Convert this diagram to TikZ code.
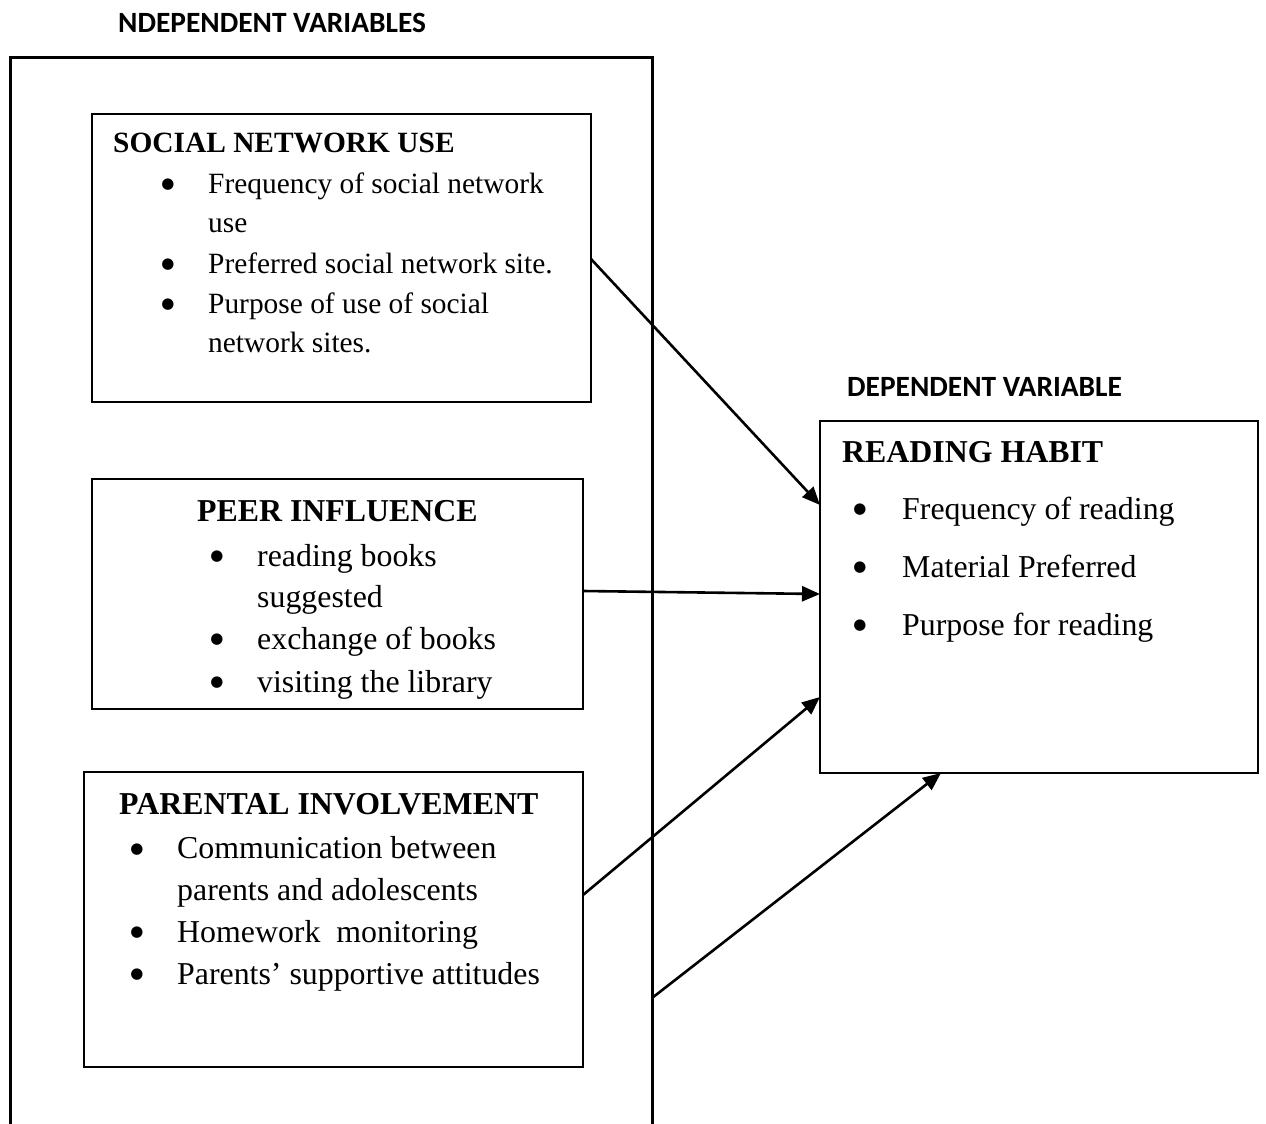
\documentclass[tikz,border=0pt]{standalone}
\usepackage{fontspec}
\setmainfont{Liberation Serif}
\newfontfamily\calibri{Carlito}
\newfontfamily\dejavu{DejaVu Sans}
\usetikzlibrary{arrows.meta,calc}
\tikzset{
  box/.style={draw=black, line width=2pt, inner sep=0pt, outer sep=0pt, anchor=north west},
  outerbox/.style={draw=black, line width=3pt},
  conn/.style={draw=black, line width=2.6pt, -{Triangle[length=18pt,width=15pt]}},
  titlelab/.style={font=\calibri\bfseries\fontsize{29.4}{34}\selectfont, anchor=base west, inner sep=0pt},
  headA/.style={font=\bfseries\fontsize{29.4}{34}\selectfont, anchor=base west, inner sep=0pt},
  headB/.style={font=\bfseries\fontsize{31.85}{37}\selectfont, anchor=base west, inner sep=0pt},
  itemA/.style={font=\fontsize{29.4}{34}\selectfont, anchor=base west, inner sep=0pt},
  itemB/.style={font=\fontsize{31.85}{37}\selectfont, anchor=base west, inner sep=0pt},
  bul/.style={font=\dejavu\fontsize{15}{16}\selectfont, anchor=center, inner sep=0pt}
}
\begin{document}
\begin{tikzpicture}[x=1pt,y=-1pt]
\useasboundingbox[fill=white] (0,0) rectangle (1266,1124);
% outer frame (open at bottom)
\draw[outerbox] (10,1124) -- (10,58) -- (652,58) -- (652,1124);
\coordinate (outerR) at (652,998);
% titles
\node[titlelab] (tind) at (118,33) {NDEPENDENT VARIABLES};
\node[titlelab] (tdep) at (847,396) {DEPENDENT VARIABLE};
% boxes
\node[box, minimum width=499pt, minimum height=288pt] (sn) at (92,114) {};
\node[box, minimum width=491pt, minimum height=230pt] (pi) at (92,479) {};
\node[box, minimum width=499pt, minimum height=295pt] (pa) at (84,772) {};
\node[box, minimum width=438pt, minimum height=352pt] (rh) at (820,421) {};
% social network use
\node[headA] (snh) at (113,152) {SOCIAL NETWORK USE};
\node[bul] (snb1) at (168,185) {●};
\node[itemA] (sn1) at (208,193) {Frequency of social network};
\node[itemA] (sn1b) at (208,232) {use};
\node[bul] (snb2) at (168,265) {●};
\node[itemA] (sn2) at (208,273) {Preferred social network site.};
\node[bul] (snb3) at (168,305) {●};
\node[itemA] (sn3) at (208,313) {Purpose of use of social};
\node[itemA] (sn3b) at (208,352) {network sites.};
% peer influence
\node[headB] (pih) at (197,521) {PEER INFLUENCE};
\node[bul] (pib1) at (217,557) {●};
\node[itemB] (pi1) at (257,566) {reading books};
\node[itemB] (pi1b) at (257,607) {suggested};
\node[bul] (pib2) at (217,640) {●};
\node[itemB] (pi2) at (257,649) {exchange of books};
\node[bul] (pib3) at (217,683) {●};
\node[itemB] (pi3) at (257,692) {visiting the library};
% parental involvement
\node[headB] (pah) at (119,814) {PARENTAL INVOLVEMENT};
\node[bul] (pab1) at (137,850) {●};
\node[itemB] (pa1) at (177,858) {Communication between};
\node[itemB] (pa1b) at (177,900) {parents and adolescents};
\node[bul] (pab2) at (137,933) {●};
\node[itemB] (pa2) at (177,942) {Homework\ \ monitoring};
\node[bul] (pab3) at (137,975) {●};
\node[itemB] (pa3) at (177,984) {Parents’ supportive attitudes};
% reading habit
\node[headB] (rhh) at (842,462) {READING HABIT};
\node[bul] (rhb1) at (860,510) {●};
\node[itemB] (rh1) at (902,519) {Frequency of reading};
\node[bul] (rhb2) at (860,568) {●};
\node[itemB] (rh2) at (902,577) {Material Preferred};
\node[bul] (rhb3) at (860,626) {●};
\node[itemB] (rh3) at (902,635) {Purpose for reading};
% connectors
\draw[conn] ($(sn.north east)+(0,145)$) -- ($(rh.north west)+(0,84)$);
\draw[conn] ($(pi.north east)+(0,112)$) -- ($(rh.north west)+(0,173)$);
\draw[conn] ($(pa.north east)+(0,123)$) -- ($(rh.north west)+(0,276)$);
\draw[conn] (outerR) -- ($(rh.south west)+(121,0)$);
\end{tikzpicture}
\end{document}
